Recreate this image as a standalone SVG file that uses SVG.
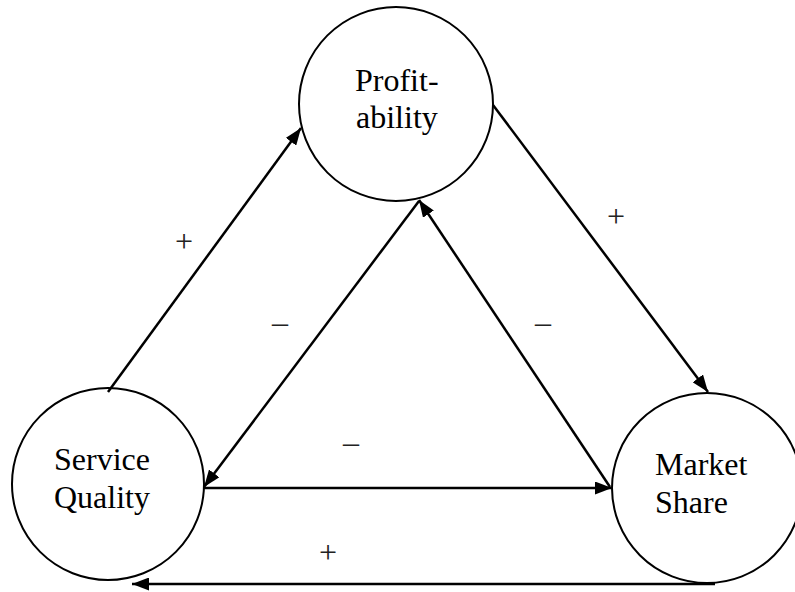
<svg xmlns="http://www.w3.org/2000/svg" width="795" height="592" viewBox="0 0 795 592">
<style>
.node{fill:#fff;stroke:#000;stroke-width:2}
.t{font-family:"Liberation Serif","Times New Roman",serif;font-size:32px;fill:#000}
.lbl{font-family:"Liberation Serif","Times New Roman",serif;font-size:32px;fill:#222;text-anchor:middle}
.c{stroke:#000;stroke-width:2.5;fill:none;marker-end:url(#ah)}
</style>
<defs>
<marker id="ah" markerUnits="userSpaceOnUse" markerWidth="17" markerHeight="13" refX="17" refY="6.5" orient="auto">
<path d="M0,0 L17,6.5 L0,13 z" fill="#000"/>
</marker>
</defs>
<rect width="795" height="592" fill="#fff"/>
<g id="profitability">
<circle class="node" cx="396" cy="104" r="97"/>
<text class="t" x="355" y="91">Profit-</text>
<text class="t" x="356" y="128">ability</text>
</g>
<g id="service-quality">
<circle class="node" cx="108" cy="484" r="96"/>
<text class="t" x="54" y="470">Service</text>
<text class="t" x="54" y="508">Quality</text>
</g>
<g id="market-share">
<circle class="node" cx="707" cy="488" r="95"/>
<text class="t" x="655" y="475">Market</text>
<text class="t" x="655" y="513">Share</text>
</g>
<g id="connectors">
<line class="c" x1="108" y1="392" x2="301" y2="128"/>
<line class="c" x1="419" y1="201" x2="204" y2="487"/>
<line class="c" x1="610" y1="487" x2="419" y2="200"/>
<line class="c" x1="493" y1="105" x2="708" y2="392"/>
<line class="c" x1="204" y1="488" x2="612" y2="488"/>
<line class="c" x1="715" y1="584" x2="132" y2="584"/>
</g>
<g id="labels">
<text class="lbl" x="184" y="252">+</text>
<text class="lbl" x="280" y="333">–</text>
<text class="lbl" x="543" y="333">–</text>
<text class="lbl" x="351" y="453">–</text>
<text class="lbl" x="616" y="227">+</text>
<text class="lbl" x="328" y="563">+</text>
</g>
</svg>
